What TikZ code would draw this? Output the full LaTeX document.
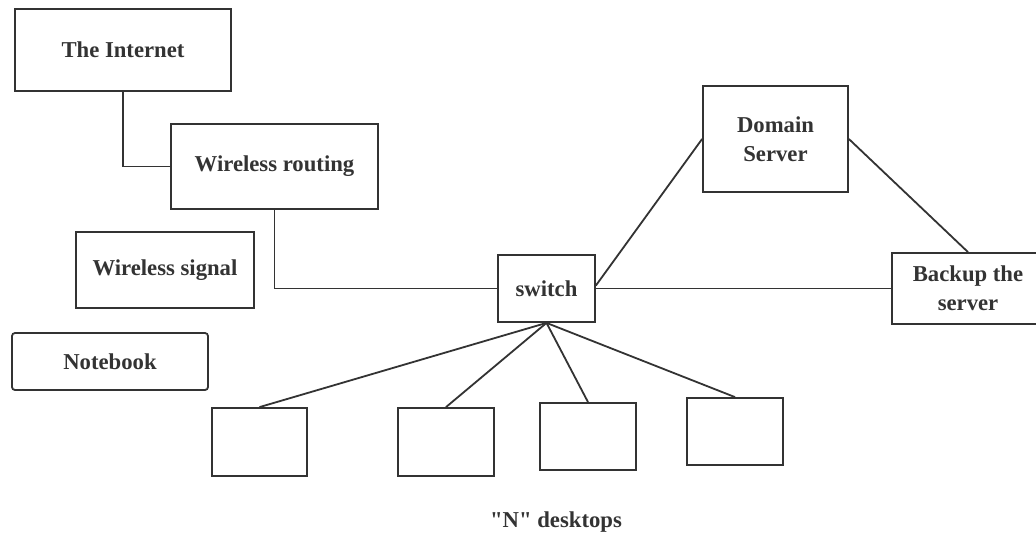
\documentclass[tikz,border=0pt]{standalone}
\usepackage{fontspec}
\setmainfont{Liberation Serif}
\definecolor{ink}{HTML}{333333}
\newcommand\sq{\XeTeXglyph\XeTeXcharglyph"22\relax}
\begin{document}
\begin{tikzpicture}[x=1pt,y=-1pt,
  box/.style={draw=ink,line width=1.8pt,fill=white,inner sep=0pt,align=center,
    text=ink,font=\fontsize{22.7}{29}\selectfont\bfseries},
  link/.style={draw=ink,line width=1.8pt}]
\clip (0,0) rectangle (1036,536);
\fill[white] (0,0) rectangle (1036,536);
\node[box,minimum width=216pt,minimum height=82pt] (inet) at (123,50) {The Internet};
\node[box,minimum width=207pt,minimum height=85pt] (route) at (274.5,166.5) {Wireless routing};
\node[box,minimum width=178pt,minimum height=76pt] (signal) at (165,270) {Wireless signal};
\node[box,rounded corners=3pt,minimum width=196pt,minimum height=57pt] (note) at (110,361.5) {Notebook};
\node[box,minimum width=97pt,minimum height=67pt] (switch) at (546.5,288.5) {switch};
\node[box,minimum width=145pt,minimum height=106pt] (domain) at (775.5,139) {Domain\\Server};
\node[box,minimum width=152pt,minimum height=71pt] (backup) at (968,288.5) {Backup the\\server};
\node[box,minimum width=95pt,minimum height=68pt] (d1) at (259.5,442) {};
\node[box,minimum width=96pt,minimum height=68pt] (d2) at (446,442) {};
\node[box,minimum width=96pt,minimum height=67pt] (d3) at (588,436.5) {};
\node[box,minimum width=96pt,minimum height=67pt] (d4) at (735,431.5) {};
\node[text=ink,font=\fontsize{22.7}{29}\selectfont\bfseries] (lbl) at (556,522) {\sq N\sq{} desktops};
\draw[link] (inet.south) |- (route.west);
\draw[link] (route.south) |- (switch.west);
\draw[link] (switch.east) -- (backup.west);
\draw[link] ([yshift=3pt]switch.east) -- (domain.west);
\draw[link] (domain.east) -- (backup.north);
\foreach \d in {d1,d2,d3,d4} \draw[link] (switch.south) -- (\d.north);
\end{tikzpicture}
\end{document}
